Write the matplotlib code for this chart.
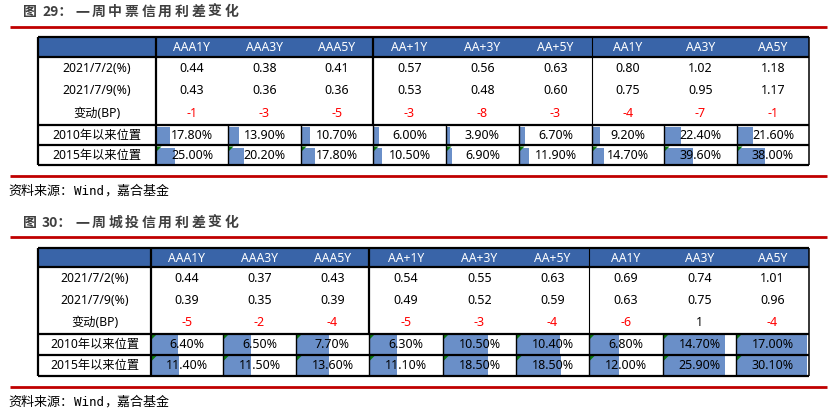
import numpy as np
import matplotlib
matplotlib.use("Agg")
import matplotlib.pyplot as plt
from matplotlib.patches import Rectangle, Polygon

plt.rcParams['font.family'] = ['Noto Sans', 'Noto Sans CJK SC', 'DejaVu Sans']

# ── Data ──────────────────────────────────────────────────────────────────────
COLS = ["AAA1Y", "AAA3Y", "AAA5Y", "AA+1Y", "AA+3Y", "AA+5Y", "AA1Y", "AA3Y", "AA5Y"]
ROW_LABELS = ["2021/7/2(%)", "2021/7/9(%)", "变动(BP)", "2010年以来位置", "2015年以来位置"]

t1_0702 = [0.44, 0.38, 0.41, 0.57, 0.56, 0.63, 0.80, 1.02, 1.18]
t1_0709 = [0.43, 0.36, 0.36, 0.53, 0.48, 0.60, 0.75, 0.95, 1.17]
t1_bp = [-1, -3, -5, -3, -8, -3, -4, -7, -1]
t1_2010 = [17.80, 13.90, 10.70, 6.00, 3.90, 6.70, 9.20, 22.40, 21.60]
t1_2015 = [25.00, 20.20, 17.80, 10.50, 6.90, 11.90, 14.70, 39.60, 38.00]

t2_0702 = [0.44, 0.37, 0.43, 0.54, 0.55, 0.63, 0.69, 0.74, 1.01]
t2_0709 = [0.39, 0.35, 0.39, 0.49, 0.52, 0.59, 0.63, 0.75, 0.96]
t2_bp = [-5, -2, -4, -5, -3, -4, -6, 1, -4]
t2_2010 = [6.40, 6.50, 7.70, 6.30, 10.50, 10.40, 6.80, 14.70, 17.00]
t2_2015 = [11.40, 11.50, 13.60, 11.10, 18.50, 18.50, 12.00, 25.90, 30.10]

TITLE1 = "一周中票信用利差变化"
TITLE2 = "一周城投信用利差变化"

# ── Styles ────────────────────────────────────────────────────────────────────
W, H = 833, 415
HEAD_BLUE = "#3964A8"
BAR_BLUE = "#6A8FC8"
RED_LINE = "#C00000"
TRI_GREEN = "#0B7A0B"
THICK, THIN = 1.6, 0.8

fig = plt.figure(figsize=(W / 100, H / 100), dpi=100)
ax = fig.add_axes([0, 0, 1, 1])
ax.set_xlim(0, W)
ax.set_ylim(H, 0)
ax.axis("off")


def hline(y, x0, x1, lw, color="black"):
    ax.plot([x0, x1], [y, y], color=color, lw=lw, solid_capstyle="butt")


def vline(x, y0, y1, lw, color="black"):
    ax.plot([x, x], [y0, y1], color=color, lw=lw, solid_capstyle="butt")


def title(y, num, text):
    kw = dict(fontsize=10, fontweight="bold", color="#3F3F3F",
              family=['Noto Sans CJK SC'], va="center")
    ax.text(23, y, "图", ha="left", **kw)
    ax.text(42, y, f"{num}：", ha="left", **kw)
    for i, ch in enumerate(text):
        ax.text(82 + i * 16.6, y, ch, ha="center", **kw)


def source(y):
    kw = dict(fontsize=9.4, va="center", ha="left", family=['Noto Sans CJK SC'])
    ax.text(8, y, "资料来源：", **kw)
    ax.text(74, y, "Wind", fontsize=9, va="center", ha="left", family=['DejaVu Sans Mono'])
    ax.text(104, y, "，嘉合基金", **kw)


def draw_table(top, xs, row_y, values, bp, pos, bar_mode, tri_rows):
    left, right = xs[0], xs[-1]
    head_bot, mid, r2010, bottom = row_y
    # header fill
    ax.add_patch(Rectangle((left, top), right - left, head_bot - top, color=HEAD_BLUE, lw=0))
    for j, c in enumerate(COLS):
        cx = (xs[j + 1] + xs[j + 2]) / 2
        ax.text(cx, (top + head_bot) / 2 + 0.5, c, color="white", fontsize=8.8,
                ha="center", va="center")
    # upper rows
    ry = np.linspace(head_bot, mid, 4)
    centers = (ry[:-1] + ry[1:]) / 2
    for i in range(3):
        ax.text((left + xs[1]) / 2, centers[i], ROW_LABELS[i], fontsize=8.8,
                ha="center", va="center")
    for j in range(len(COLS)):
        cx = (xs[j + 1] + xs[j + 2]) / 2
        ax.text(cx, centers[0], f"{values[0][j]:.2f}", fontsize=9, ha="center", va="center")
        ax.text(cx, centers[1], f"{values[1][j]:.2f}", fontsize=9, ha="center", va="center")
        ax.text(cx, centers[2], f"{bp[j]}", fontsize=9, ha="center", va="center",
                color="#FF0000" if bp[j] < 0 else "black")
    # lower rows with data bars
    rows = [(mid, r2010), (r2010, bottom)]
    for k, (y0, y1) in enumerate(rows):
        ax.text((left + xs[1]) / 2, (y0 + y1) / 2, ROW_LABELS[3 + k], fontsize=8.8,
                ha="center", va="center")
        vals = pos[k]
        rmax = max(vals)
        for j, v in enumerate(vals):
            x0, x1 = xs[j + 1], xs[j + 2]
            cw = x1 - x0
            frac = v / 100 if bar_mode == "abs" else v / rmax
            inset = 2 if bar_mode == "abs" else 1.2
            ax.add_patch(Rectangle((x0 + 1.5, y0 + inset), (cw - 3) * frac,
                                   (y1 - y0) - 2 * inset, color=BAR_BLUE, lw=0))
            if k in tri_rows:
                ax.add_patch(Polygon([[x0 + 1, y0 + 1], [x0 + 5.5, y0 + 1], [x0 + 1, y0 + 5.5]],
                                     closed=True, color=TRI_GREEN, lw=0))
            ax.text((x0 + x1) / 2, (y0 + y1) / 2, f"{v:.2f}%", fontsize=9,
                    ha="center", va="center")
    # borders
    hline(top, left, right, THICK)
    hline(head_bot, left, right, THICK)
    hline(mid, left, right, THICK)
    hline(r2010, left, right, THICK)
    hline(bottom, left, right, THICK)
    vline(left, top, bottom, THICK)
    vline(xs[1], top, bottom, THICK)
    vline(xs[4], top, mid, THICK)
    vline(xs[7], top, mid, THIN)
    vline(right, top, bottom, THIN + 0.3)
    for x in xs[2:-1]:
        vline(x, mid, bottom, THIN + 0.2)


# ── Table 1 ───────────────────────────────────────────────────────────────────
title(12, 29, TITLE1)
hline(27, 10, 827, 2.0, RED_LINE)
xs1 = [38, 156, 228, 301, 373, 446, 519, 592, 664, 737, 809]
draw_table(37, xs1, (57, 125, 145.5, 165.5), (t1_0702, t1_0709), t1_bp,
           (t1_2010, t1_2015), "abs", tri_rows=[1])
hline(176, 10, 827, 2.0, RED_LINE)
source(191)

# ── Table 2 ───────────────────────────────────────────────────────────────────
title(223, 30, TITLE2)
hline(237, 10, 827, 2.0, RED_LINE)
xs2 = [38, 151, 223, 296, 369, 443, 516, 589, 663, 736, 809]
draw_table(248, xs2, (267, 333.5, 355, 376), (t2_0702, t2_0709), t2_bp,
           (t2_2010, t2_2015), "row", tri_rows=[0, 1])
hline(387, 10, 827, 2.0, RED_LINE)
source(402)

fig.savefig("out.png", dpi=100)
